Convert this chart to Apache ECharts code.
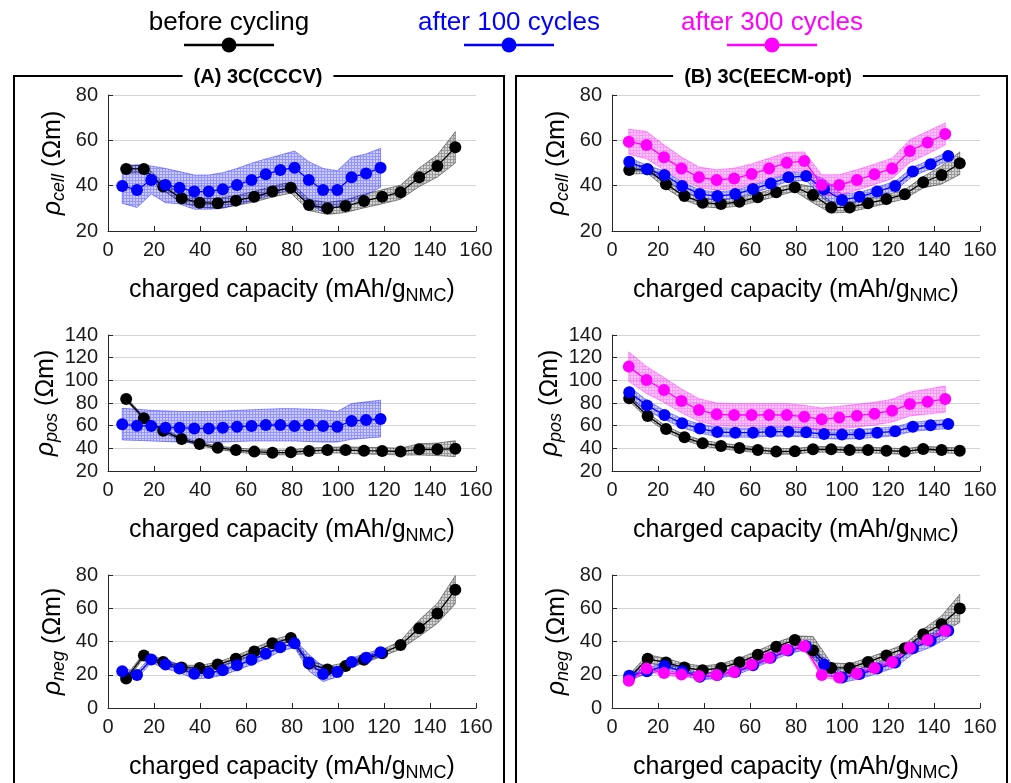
<!DOCTYPE html>
<html><head><meta charset="utf-8">
<script src="https://cdn.jsdelivr.net/npm/echarts/dist/echarts.min.js"></script>
<style>html,body{margin:0;padding:0;background:#fff}#c{width:1011px;height:783px}</style>
</head><body><div id="c"></div>
<script>
// ---------- x positions (charged capacity, mAh/g_NMC) ----------
const xA_before = [7.9, 15.6, 24.0, 32.0, 39.8, 47.7, 55.6, 63.6, 71.5, 79.5, 87.4, 95.4, 103.3, 111.3, 119.2, 127.2, 135.3, 143.2, 151.0];
const xA_c100   = [6.2, 12.6, 18.8, 25.0, 31.1, 37.5, 43.8, 49.9, 56.1, 62.4, 68.6, 74.9, 81.1, 87.3, 93.5, 99.7, 105.9, 112.2, 118.5];
const xB_before = [7.5, 15.5, 23.5, 31.5, 39.4, 47.4, 55.4, 63.4, 71.4, 79.5, 87.4, 95.3, 103.3, 111.3, 119.3, 127.3, 135.3, 143.3, 151.2];
const xB_c100   = [7.5, 15.2, 22.8, 30.5, 38.2, 45.8, 53.6, 61.3, 69.0, 76.7, 84.4, 92.2, 100.0, 107.6, 115.3, 123.1, 130.8, 138.5, 146.2];
const xB_c300   = [7.3, 15.0, 22.6, 30.2, 37.8, 45.5, 53.1, 60.7, 68.3, 76.0, 83.6, 91.2, 98.8, 106.5, 114.1, 121.8, 129.5, 137.2, 144.9];

// ---------- (A) 3C(CCCV) ----------
const A_cell_before    = [47.4, 47.4, 39.6, 34.4, 32.5, 32.2, 33.4, 35.1, 37.4, 39.1, 31.5, 30.0, 31.0, 33.2, 35.1, 37.1, 43.7, 48.7, 56.9];
const A_cell_before_lo = [45.6, 45.6, 37.8, 32.5, 30.4, 30.0, 31.2, 32.8, 35.0, 36.7, 29.0, 27.3, 28.2, 30.2, 32.0, 34.0, 39.6, 43.8, 50.0];
const A_cell_before_hi = [49.1, 49.1, 41.4, 36.4, 34.6, 34.4, 35.6, 37.4, 39.8, 41.5, 34.0, 32.5, 33.8, 36.2, 38.2, 40.2, 47.8, 53.6, 63.8];
const A_cell_c100      = [39.9, 38.1, 42.5, 40.3, 39.1, 37.4, 37.4, 38.4, 40.3, 42.5, 45.0, 46.9, 47.9, 42.5, 38.1, 38.1, 43.7, 45.4, 47.9];
const A_cell_c100_lo   = [32.2, 30.4, 36.3, 32.5, 31.9, 29.6, 29.6, 30.0, 31.5, 33.4, 35.1, 36.9, 38.8, 31.9, 28.5, 30.7, 32.9, 35.9, 39.3];
const A_cell_c100_hi   = [48.1, 49.1, 48.7, 47.6, 46.2, 44.7, 44.7, 45.7, 47.6, 49.9, 51.8, 53.5, 55.3, 50.6, 47.6, 46.6, 52.5, 54.0, 56.5];

const A_pos_before    = [83.5, 66.5, 55.6, 48.2, 43.8, 40.6, 38.5, 37.1, 36.2, 36.5, 37.7, 38.5, 38.5, 37.9, 37.7, 37.1, 39.1, 39.1, 39.7];
const A_pos_before_lo = [82.0, 65.0, 54.1, 46.7, 42.3, 39.1, 36.7, 35.1, 34.2, 34.3, 35.2, 36.0, 35.7, 34.9, 34.7, 34.1, 34.1, 33.6, 32.7];
const A_pos_before_hi = [85.0, 68.0, 57.1, 49.7, 45.3, 42.1, 40.3, 39.1, 38.2, 38.7, 40.2, 41.0, 41.3, 40.9, 40.7, 40.1, 44.1, 44.6, 46.7];
const A_pos_c100      = [61.2, 60.0, 59.7, 58.2, 58.2, 57.6, 57.6, 58.2, 59.1, 59.7, 60.6, 60.6, 59.7, 60.6, 59.7, 59.1, 64.1, 65.0, 65.9];
const A_pos_c100_lo   = [47.4, 47.0, 46.5, 46.0, 45.5, 45.0, 45.0, 45.5, 46.0, 46.5, 46.5, 46.5, 46.5, 46.0, 45.5, 45.5, 48.0, 49.0, 50.0];
const A_pos_c100_hi   = [75.3, 74.5, 73.5, 73.0, 72.5, 72.5, 72.5, 73.0, 73.5, 74.0, 74.5, 75.0, 75.0, 74.5, 74.0, 72.5, 79.5, 81.0, 82.5];

const A_neg_before    = [17.8, 31.6, 27.7, 24.3, 24.1, 26.1, 29.6, 34.0, 38.9, 42.1, 26.7, 23.1, 25.3, 29.0, 33.0, 37.9, 48.0, 56.9, 71.1];
const A_neg_before_lo = [16.3, 30.1, 26.2, 22.8, 22.6, 24.6, 27.8, 32.0, 36.9, 40.1, 24.7, 21.1, 23.3, 27.0, 31.0, 35.4, 43.0, 50.9, 62.6];
const A_neg_before_hi = [19.3, 33.1, 29.2, 25.8, 25.6, 27.6, 31.4, 36.0, 40.9, 44.1, 28.7, 25.1, 27.3, 31.0, 35.0, 40.4, 53.0, 62.9, 79.6];
const A_neg_c100      = [22.1, 19.8, 29.2, 26.1, 23.7, 20.6, 21.0, 22.7, 25.7, 29.0, 32.6, 36.5, 38.9, 27.3, 20.4, 21.7, 27.7, 30.2, 33.6];
const A_neg_c100_lo   = [20.1, 17.8, 27.2, 23.6, 21.2, 17.6, 18.0, 19.7, 22.7, 26.0, 29.6, 34.0, 36.4, 22.3, 15.9, 18.7, 25.2, 27.7, 31.6];
const A_neg_c100_hi   = [24.1, 21.8, 31.2, 28.6, 26.2, 23.6, 24.0, 25.7, 28.7, 32.0, 35.6, 39.0, 41.4, 32.3, 24.9, 24.7, 30.2, 32.7, 35.6];

// ---------- (B) 3C(EECM-opt) ----------
const B_cell_before    = [46.9, 47.2, 40.6, 35.4, 32.5, 31.9, 32.9, 34.9, 37.1, 39.3, 35.9, 30.4, 30.4, 32.2, 34.1, 36.2, 41.5, 44.7, 49.9];
const B_cell_before_lo = [45.1, 45.4, 38.8, 33.6, 30.7, 30.1, 31.1, 33.1, 35.3, 37.5, 32.4, 27.9, 28.4, 30.2, 32.1, 34.2, 39.0, 40.7, 44.9];
const B_cell_before_hi = [48.7, 49.0, 42.4, 37.2, 34.3, 33.7, 34.7, 36.7, 38.9, 41.1, 39.4, 32.9, 32.4, 34.2, 36.1, 38.2, 44.0, 48.7, 54.9];
const B_cell_c100      = [50.6, 47.2, 44.7, 39.9, 36.3, 35.4, 36.3, 38.5, 41.0, 43.7, 44.3, 38.4, 33.7, 35.1, 37.4, 39.9, 46.2, 49.4, 53.1];
const B_cell_c100_lo   = [48.8, 45.4, 42.9, 38.1, 34.5, 33.6, 34.5, 36.7, 39.2, 41.9, 42.3, 33.9, 31.2, 33.1, 35.4, 37.9, 44.2, 47.4, 51.1];
const B_cell_c100_hi   = [52.4, 49.0, 46.5, 41.7, 38.1, 37.2, 38.1, 40.3, 42.8, 45.5, 46.3, 42.9, 36.2, 37.1, 39.4, 41.9, 48.2, 51.4, 55.1];
const B_cell_c300      = [59.4, 57.9, 52.5, 47.6, 43.7, 42.5, 43.2, 45.1, 47.6, 50.1, 50.9, 40.3, 40.3, 42.5, 45.0, 47.6, 55.3, 59.0, 62.8];
const B_cell_c300_lo   = [53.9, 51.9, 47.0, 42.6, 39.2, 38.0, 38.7, 40.6, 43.1, 45.6, 46.9, 35.8, 35.8, 38.0, 40.5, 43.1, 50.3, 54.0, 58.0];
const B_cell_c300_hi   = [64.9, 63.9, 58.0, 52.6, 48.2, 47.0, 47.7, 49.6, 52.1, 54.6, 54.9, 44.8, 44.8, 47.0, 49.5, 52.1, 60.3, 64.0, 67.6];

const B_pos_before    = [84.1, 68.5, 57.1, 49.7, 44.4, 42.1, 40.3, 38.5, 37.1, 37.4, 39.1, 39.1, 38.5, 38.5, 37.9, 37.1, 39.4, 38.5, 37.9];
const B_pos_before_lo = [81.6, 66.0, 54.6, 47.2, 41.9, 39.6, 37.8, 36.0, 34.6, 34.9, 36.6, 36.6, 36.0, 36.0, 35.4, 34.6, 36.9, 36.0, 35.4];
const B_pos_before_hi = [86.6, 71.0, 59.6, 52.2, 46.9, 44.6, 42.8, 41.0, 39.6, 39.9, 41.6, 41.6, 41.0, 41.0, 40.4, 39.6, 41.9, 41.0, 40.4];
const B_pos_c100      = [89.4, 77.9, 69.4, 62.1, 57.4, 54.4, 53.8, 53.8, 54.7, 54.7, 54.1, 52.6, 52.1, 52.6, 53.8, 55.0, 59.1, 60.3, 61.5];
const B_pos_c100_lo   = [84.4, 73.4, 65.4, 58.1, 53.4, 50.4, 49.8, 49.8, 50.7, 50.7, 50.1, 48.6, 48.1, 48.6, 49.8, 51.0, 55.1, 56.3, 57.5];
const B_pos_c100_hi   = [94.4, 82.4, 73.4, 66.1, 61.4, 58.4, 57.8, 57.8, 58.7, 58.7, 58.1, 56.6, 56.1, 56.6, 57.8, 59.0, 63.1, 64.3, 65.5];
const B_pos_c300      = [112.1, 100.3, 91.5, 81.8, 73.8, 70.0, 69.4, 69.4, 69.4, 69.4, 67.9, 65.6, 67.1, 68.8, 70.6, 73.2, 79.1, 81.2, 83.5];
const B_pos_c300_lo   = [99.1, 88.3, 80.5, 71.3, 63.8, 60.0, 59.4, 59.4, 59.4, 59.4, 57.9, 55.6, 57.1, 58.8, 60.6, 63.2, 68.6, 70.2, 72.0];
const B_pos_c300_hi   = [125.1, 112.3, 102.5, 92.3, 83.8, 80.0, 79.4, 79.4, 79.4, 79.4, 77.9, 75.6, 77.1, 78.8, 80.6, 83.2, 89.6, 92.2, 95.0];

const B_neg_before    = [18.2, 29.6, 27.3, 24.3, 22.7, 24.1, 27.5, 32.0, 36.9, 40.9, 34.6, 24.1, 24.1, 27.7, 31.6, 36.0, 44.4, 50.4, 59.9];
const B_neg_before_lo = [16.2, 27.1, 24.8, 21.8, 20.2, 21.6, 25.0, 29.5, 34.4, 38.4, 30.0, 21.1, 21.6, 25.2, 29.1, 33.5, 41.4, 45.4, 51.4];
const B_neg_before_hi = [20.2, 32.1, 29.8, 26.8, 25.2, 26.6, 30.0, 34.5, 39.4, 43.4, 43.0, 27.1, 26.6, 30.2, 34.1, 38.5, 47.4, 55.4, 68.4];
const B_neg_c100      = [19.4, 22.1, 25.3, 22.1, 18.8, 19.8, 21.7, 25.7, 30.2, 34.6, 37.1, 26.1, 18.4, 20.4, 23.7, 27.3, 36.0, 40.5, 46.4];
const B_neg_c100_lo   = [17.4, 20.1, 23.3, 20.1, 16.8, 17.8, 19.7, 23.7, 28.2, 32.6, 35.1, 22.1, 15.4, 17.4, 20.7, 24.3, 32.5, 36.5, 42.4];
const B_neg_c100_hi   = [21.4, 24.1, 27.3, 24.1, 20.8, 21.8, 23.7, 27.7, 32.2, 36.6, 39.1, 30.1, 21.4, 23.4, 26.7, 30.3, 39.5, 44.5, 50.4];
const B_neg_c300      = [16.4, 23.7, 21.1, 20.2, 19.2, 19.8, 21.7, 26.1, 30.2, 35.0, 37.1, 19.8, 18.4, 20.8, 24.1, 27.7, 36.2, 40.9, 46.4];
const B_neg_c300_lo   = [14.9, 22.2, 19.6, 18.7, 17.7, 18.3, 20.2, 24.6, 28.7, 33.5, 35.6, 18.3, 16.9, 19.3, 22.6, 26.2, 34.7, 39.4, 44.9];
const B_neg_c300_hi   = [17.9, 25.2, 22.6, 21.7, 20.7, 21.3, 23.2, 27.6, 31.7, 36.5, 38.6, 21.3, 19.9, 22.3, 25.6, 29.2, 37.7, 42.4, 47.9];

// ---------- labels ----------
const legendNames = ['before cycling', 'after 100 cycles', 'after 300 cycles'];
const panelTitles = ['(A) 3C(CCCV)', '(B) 3C(EECM-opt)'];
const yNames = ['cell', 'pos', 'neg'];
const yRanges = [[20, 80], [20, 140], [0, 80]];
const xRange = [0, 160];

// ---------- styling ----------
const FONT = 'Liberation Sans, Arial, Helvetica, sans-serif';
function hatch(rgb, aBg, aLine) {
  const c = document.createElement('canvas');
  c.width = 3; c.height = 3;
  const g = c.getContext('2d');
  g.fillStyle = 'rgba(' + rgb + ',' + aBg + ')';
  g.fillRect(0, 0, 3, 3);
  g.fillStyle = 'rgba(' + rgb + ',' + aLine + ')';
  g.fillRect(0, 0, 3, 1);
  g.fillRect(0, 1, 1, 2);
  return {image: c, repeat: 'repeat'};
}
const COND = {
  before: {c: '#000000', fill: hatch('0,0,0', 0.17, 0.27), edge: 'rgba(0,0,0,0.55)'},
  c100:   {c: '#0000ff', fill: hatch('0,0,255', 0.2, 0.28), edge: 'rgba(0,0,255,0.5)'},
  c300:   {c: '#ff00ff', fill: hatch('255,0,255', 0.2, 0.28), edge: 'rgba(255,0,255,0.5)'}
};

const colLeft = [108, 612];
const rowTop = [95, 335, 575];
const plotW = 368, plotH = 136;

const panels = [
  {col: 0, row: 0, s: [['before', xA_before, A_cell_before, A_cell_before_lo, A_cell_before_hi], ['c100', xA_c100, A_cell_c100, A_cell_c100_lo, A_cell_c100_hi]]},
  {col: 0, row: 1, s: [['before', xA_before, A_pos_before, A_pos_before_lo, A_pos_before_hi], ['c100', xA_c100, A_pos_c100, A_pos_c100_lo, A_pos_c100_hi]]},
  {col: 0, row: 2, s: [['before', xA_before, A_neg_before, A_neg_before_lo, A_neg_before_hi], ['c100', xA_c100, A_neg_c100, A_neg_c100_lo, A_neg_c100_hi]]},
  {col: 1, row: 0, s: [['before', xB_before, B_cell_before, B_cell_before_lo, B_cell_before_hi], ['c100', xB_c100, B_cell_c100, B_cell_c100_lo, B_cell_c100_hi], ['c300', xB_c300, B_cell_c300, B_cell_c300_lo, B_cell_c300_hi]]},
  {col: 1, row: 1, s: [['before', xB_before, B_pos_before, B_pos_before_lo, B_pos_before_hi], ['c100', xB_c100, B_pos_c100, B_pos_c100_lo, B_pos_c100_hi], ['c300', xB_c300, B_pos_c300, B_pos_c300_lo, B_pos_c300_hi]]},
  {col: 1, row: 2, s: [['before', xB_before, B_neg_before, B_neg_before_lo, B_neg_before_hi], ['c100', xB_c100, B_neg_c100, B_neg_c100_lo, B_neg_c100_hi], ['c300', xB_c300, B_neg_c300, B_neg_c300_lo, B_neg_c300_hi]]}
];

const grids = [], xAxes = [], yAxes = [], series = [];
const nameRichMain = {fontSize: 25, fontFamily: FONT, color: '#000', lineHeight: 30, verticalAlign: 'middle'};
panels.forEach(function (p, gi) {
  grids.push({left: colLeft[p.col], top: rowTop[p.row], width: plotW, height: plotH, containLabel: false});
  xAxes.push({
    type: 'value', gridIndex: gi, min: xRange[0], max: xRange[1], interval: 20,
    axisLine: {show: true, onZero: false, lineStyle: {color: '#262626', width: 1}},
    axisTick: {show: true, inside: true, length: 5, lineStyle: {color: '#262626'}},
    axisLabel: {fontSize: 20, fontFamily: FONT, color: '#1a1a1a', margin: 9},
    splitLine: {show: false},
    name: '{n|charged capacity (mAh/g}{s|NMC}{n|)}',
    nameLocation: 'middle', nameGap: 44,
    nameTextStyle: {rich: {
      n: nameRichMain,
      s: {fontSize: 18, fontFamily: FONT, color: '#000', lineHeight: 14, verticalAlign: 'bottom'}
    }}
  });
  const yr = yRanges[p.row];
  yAxes.push({
    type: 'value', gridIndex: gi, min: yr[0], max: yr[1], interval: 20,
    axisLine: {show: true, onZero: false, lineStyle: {color: '#262626', width: 1}},
    axisTick: {show: true, inside: true, length: 5, lineStyle: {color: '#262626'}},
    axisLabel: {fontSize: 20, fontFamily: FONT, color: '#1a1a1a', margin: 10},
    splitLine: {show: true, lineStyle: {color: '#d4d4d4', width: 1}},
    name: '{r|ρ}{s|' + yNames[p.row] + '}{n|\u00a0(Ωm)}',
    nameLocation: 'middle', nameGap: 40,
    nameTextStyle: {rich: {
      r: Object.assign({}, nameRichMain, {fontStyle: 'italic'}),
      s: {fontSize: 18, fontStyle: 'italic', fontFamily: FONT, color: '#000', lineHeight: 14, verticalAlign: 'bottom'},
      n: nameRichMain
    }}
  });
  p.s.forEach(function (s) {
    const st = COND[s[0]], xs = s[1], ys = s[2], lo = s[3], hi = s[4];
    series.push({
      type: 'custom', xAxisIndex: gi, yAxisIndex: gi, silent: true,
      data: xs.map(function (x, i) { return [x, lo[i], hi[i]]; }),
      encode: {x: 0, y: [1, 2]},
      renderItem: function (params, api) {
        if (params.dataIndex !== 0) return null;
        const pts = [];
        for (let i = 0; i < xs.length; i++) pts.push(api.coord([xs[i], hi[i]]));
        for (let i = xs.length - 1; i >= 0; i--) pts.push(api.coord([xs[i], lo[i]]));
        return {type: 'polygon', shape: {points: pts}, style: {fill: st.fill, stroke: st.edge, lineWidth: 0.8}};
      }
    });
    series.push({
      type: 'line', xAxisIndex: gi, yAxisIndex: gi, silent: true,
      data: xs.map(function (x, i) { return [x, ys[i]]; }),
      symbol: 'circle', symbolSize: 12, showSymbol: true,
      lineStyle: {color: st.c, width: 1.3},
      itemStyle: {color: st.c, borderWidth: 0}
    });
  });
});

// ---------- graphics: panel frames, titles, legend ----------
const graphic = [];
const frames = [{x: 14, w: 490, tx: 258}, {x: 516, w: 491, tx: 768}];
frames.forEach(function (f, i) {
  graphic.push({type: 'rect', z: 10, silent: true, shape: {x: f.x, y: 76, width: f.w, height: 760},
    style: {fill: 'none', stroke: '#000', lineWidth: 2}});
  graphic.push({type: 'text', z: 11, silent: true, x: f.tx, y: 77,
    style: {text: panelTitles[i], font: 'bold 20px ' + FONT, fill: '#000', align: 'center', verticalAlign: 'middle',
      backgroundColor: '#fff', padding: [2, 11]}});
});
const legendPos = [229, 509, 772];
const legendCols = [COND.before.c, COND.c100.c, COND.c300.c];
legendNames.forEach(function (n, i) {
  const cx = legendPos[i];
  graphic.push({type: 'text', silent: true, x: cx, y: 23,
    style: {text: n, font: '26px ' + FONT, fill: legendCols[i], align: 'center', verticalAlign: 'middle'}});
  graphic.push({type: 'line', silent: true, shape: {x1: cx - 45, y1: 45, x2: cx + 45, y2: 45},
    style: {stroke: legendCols[i], lineWidth: 2.5}});
  graphic.push({type: 'circle', silent: true, shape: {cx: cx, cy: 45, r: 7.5}, style: {fill: legendCols[i]}});
});

const chart = echarts.init(document.getElementById('c'), null, {renderer: 'canvas'});
chart.setOption({
  animation: false,
  backgroundColor: '#fff',
  textStyle: {fontFamily: FONT},
  grid: grids, xAxis: xAxes, yAxis: yAxes, series: series, graphic: graphic
});
</script></body></html>
